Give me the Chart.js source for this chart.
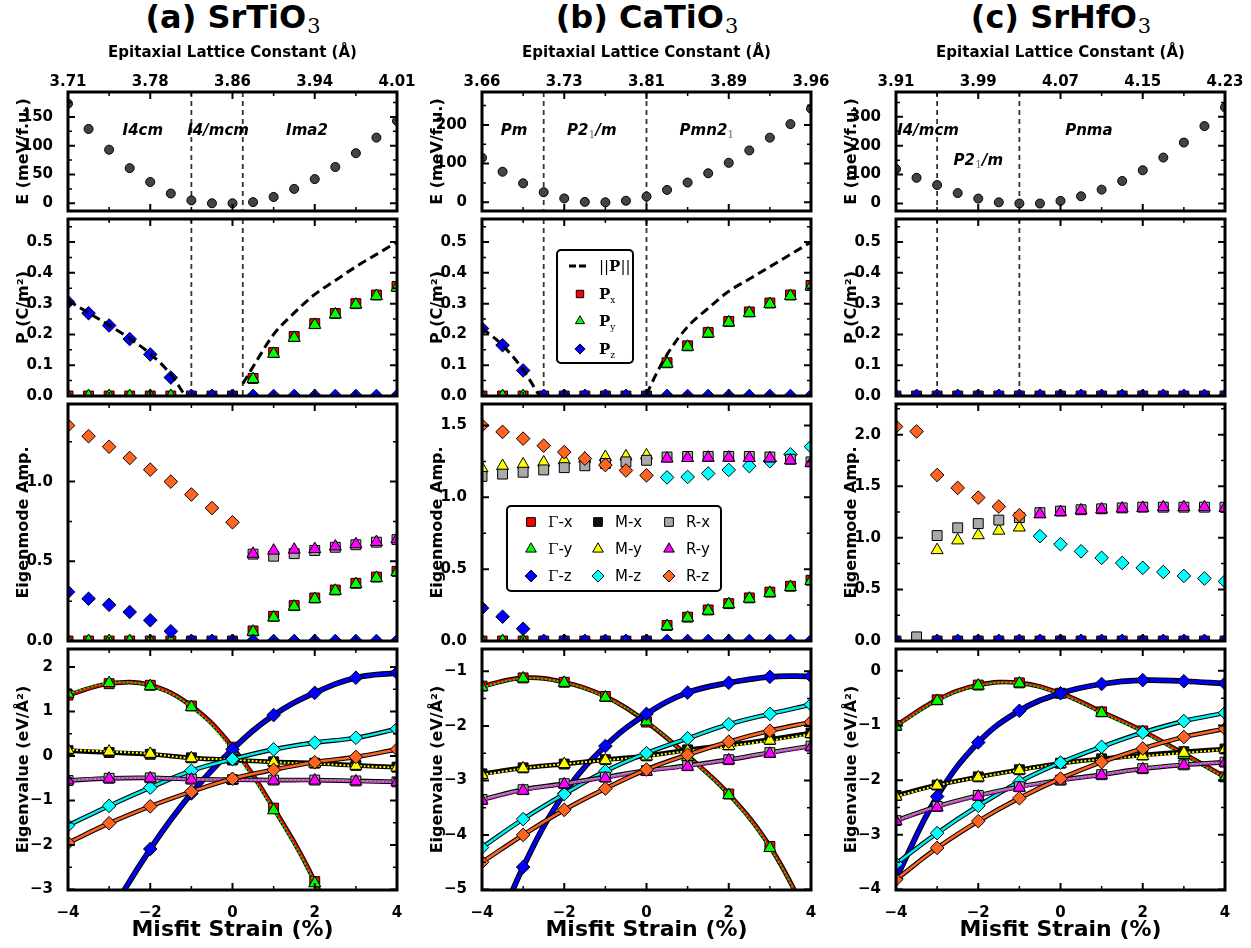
<!DOCTYPE html>
<html>
<head>
<meta charset="utf-8">
<script src="https://cdn.jsdelivr.net/npm/chart.js@4.4.1/dist/chart.umd.min.js"></script>
<style>
  html, body { margin: 0; padding: 0; background: #fff; }
  #fig { position: relative; width: 1251px; height: 948px; overflow: hidden; background: #fff; }
  #fig canvas { position: absolute; }
  .ttl { position: absolute; top: 1px; width: 400px; text-align: center; color: #000; white-space: nowrap;
         font-family: "DejaVu Sans"; font-weight: bold; font-size: 32px; line-height: 32px; }
  .ttl span { font-family: "DejaVu Serif"; font-weight: normal; font-size: 21px; line-height: 21px; position: relative; top: 5px; margin-left: 1px; }
</style>
</head>
<body>
<div id="fig">
  <div class="ttl" style="left:33px">(a) SrTiO<span>3</span></div>
  <div class="ttl" style="left:447px">(b) CaTiO<span>3</span></div>
  <div class="ttl" style="left:861px">(c) SrHfO<span>3</span></div>
</div>
<script>
// ---- data ----
const strain = [-4, -3.5, -3, -2.5, -2, -1.5, -1, -0.5, 0, 0.5, 1, 1.5, 2, 2.5, 3, 3.5, 4];
const strainEig = [-4, -3, -2, -1, 0, 1, 2, 3, 4];
const strainTicks = [-4, -2, 0, 2, 4];
const xTickAll = [-4, -3, -2, -1, 0, 1, 2, 3, 4];

const latticeA = ['3.71', '3.78', '3.86', '3.94', '4.01'];
const latticeB = ['3.66', '3.73', '3.81', '3.89', '3.96'];
const latticeC = ['3.91', '3.99', '4.07', '4.15', '4.23'];

// energy (meV/f.u.)
const energyA = [173, 129, 93, 61, 37, 17, 5, 0, 0, 2, 11, 25, 42, 63, 87, 114, 143];
const energyB = [115, 79, 49, 26, 10, 1, 0, 4, 15, 32, 51, 75, 102, 134, 167, 202, 242];
const energyC = [119, 89, 64, 36, 17, 4, 0, 0, 9, 25, 48, 78, 115, 159, 211, 268, 333];

// polarization (C/m^2)
const pxA = [0, 0, 0, 0, 0, 0, 0, 0, 0, 0.057, 0.141, 0.193, 0.235, 0.268, 0.3, 0.328, 0.356];
const pyA = [0, 0, 0, 0, 0, 0, 0, 0, 0, 0.055, 0.137, 0.189, 0.231, 0.265, 0.297, 0.325, 0.352];
const pzA = [0.305, 0.269, 0.229, 0.185, 0.135, 0.06, 0, 0, 0, 0, 0, 0, 0, 0, 0, 0, 0];
const normXA = [-4, -3.5, -3, -2.5, -2, -1.5, -1.15, null, 0.25, 0.5, 1, 1.5, 2, 2.5, 3, 3.5, 4];
const normYA = [0.31, 0.27, 0.23, 0.187, 0.137, 0.07, 0, null, 0.04, 0.095, 0.2, 0.27, 0.33, 0.375, 0.42, 0.46, 0.5];

const pxB = [0, 0, 0, 0, 0, 0, 0, 0, 0, 0.108, 0.163, 0.206, 0.242, 0.273, 0.302, 0.328, 0.359];
const pyB = [0, 0, 0, 0, 0, 0, 0, 0, 0, 0.105, 0.16, 0.203, 0.239, 0.27, 0.299, 0.325, 0.356];
const pzB = [0.219, 0.165, 0.083, 0, 0, 0, 0, 0, 0, 0, 0, 0, 0, 0, 0, 0, 0];
const normXB = [-4, -3.5, -3, -2.6, null, 0, 0.25, 0.5, 1, 1.5, 2, 2.5, 3, 3.5, 4];
const normYB = [0.22, 0.165, 0.085, 0, null, 0.005, 0.075, 0.135, 0.225, 0.285, 0.34, 0.38, 0.42, 0.46, 0.5];

const pxC = [0, 0, 0, 0, 0, 0, 0, 0, 0, 0, 0, 0, 0, 0, 0, 0, 0];
const pyC = [0, 0, 0, 0, 0, 0, 0, 0, 0, 0, 0, 0, 0, 0, 0, 0, 0];
const pzC = [0, 0, 0, 0, 0, 0, 0, 0, 0, 0, 0, 0, 0, 0, 0, 0, 0];
const normXC = [];
const normYC = [];

// eigenmode amplitudes
const gxAmpA = [0, 0, 0, 0, 0, 0, 0, 0, 0, 0.063, 0.155, 0.222, 0.27, 0.32, 0.362, 0.401, 0.437];
const gyAmpA = [0, 0, 0, 0, 0, 0, 0, 0, 0, 0.058, 0.148, 0.216, 0.264, 0.315, 0.357, 0.396, 0.432];
const gzAmpA = [0.308, 0.265, 0.227, 0.182, 0.13, 0.061, 0, 0, 0, 0, 0, 0, 0, 0, 0, 0, 0];
const mxAmpA = [];
const myAmpA = [];
const mzAmpA = [];
const rxAmpA = [null, null, null, null, null, null, null, null, null, 0.545, 0.532, 0.548, 0.568, 0.588, 0.604, 0.62, 0.636];
const ryAmpA = [null, null, null, null, null, null, null, null, null, 0.547, 0.567, 0.573, 0.577, 0.593, 0.607, 0.621, 0.638];
const rzAmpA = [1.352, 1.285, 1.219, 1.148, 1.075, 1.0, 0.919, 0.834, 0.745, null, null, null, null, null, null, null, null];

const gxAmpB = [0, 0, 0, 0, 0, 0, 0, 0, 0, 0.108, 0.166, 0.216, 0.26, 0.3, 0.34, 0.381, 0.423];
const gyAmpB = [0, 0, 0, 0, 0, 0, 0, 0, 0, 0.104, 0.162, 0.211, 0.256, 0.295, 0.335, 0.376, 0.418];
const gzAmpB = [0.229, 0.169, 0.085, 0, 0, 0, 0, 0, 0, 0, 0, 0, 0, 0, 0, 0, 0];
const mxAmpB = [];
const myAmpB = [1.202, 1.218, 1.229, 1.243, 1.258, 1.27, 1.281, 1.285, 1.292, null, null, null, null, null, null, null, null];
const mzAmpB = [null, null, null, null, null, null, null, null, null, 1.139, 1.142, 1.166, 1.191, 1.218, 1.252, 1.299, 1.353];
const rxAmpB = [1.146, 1.162, 1.175, 1.191, 1.207, 1.22, 1.236, 1.247, 1.258, 1.281, 1.285, 1.285, 1.285, 1.285, 1.281, 1.265, 1.247];
const ryAmpB = [null, null, null, null, null, null, null, null, null, 1.27, 1.274, 1.276, 1.276, 1.274, 1.272, 1.258, 1.24];
const rzAmpB = [1.501, 1.456, 1.409, 1.36, 1.315, 1.27, 1.225, 1.187, 1.153, null, null, null, null, null, null, null, null];

const gxAmpC = [0, 0, 0, 0, 0, 0, 0, 0, 0, 0, 0, 0, 0, 0, 0, 0, 0];
const gyAmpC = [0, 0, 0, 0, 0, 0, 0, 0, 0, 0, 0, 0, 0, 0, 0, 0, 0];
const gzAmpC = [0, 0, 0, 0, 0, 0, 0, 0, 0, 0, 0, 0, 0, 0, 0, 0, 0];
const mxAmpC = [];
const myAmpC = [null, null, 0.881, 0.975, 1.025, 1.069, 1.1, null, null, null, null, null, null, null, null, null, null];
const mzAmpC = [null, null, null, null, null, null, null, 1.016, 0.938, 0.869, 0.806, 0.756, 0.709, 0.669, 0.631, 0.606, 0.578];
const rxAmpC = [null, 0.04, 1.022, 1.097, 1.138, 1.172, 1.197, 1.244, 1.259, 1.272, 1.281, 1.29, 1.297, 1.297, 1.297, 1.297, 1.297];
const ryAmpC = [null, null, null, null, null, null, null, 1.228, 1.25, 1.266, 1.275, 1.284, 1.29, 1.297, 1.297, 1.297, 1.29];
const rzAmpC = [2.078, 2.031, 1.609, 1.484, 1.39, 1.303, 1.219, null, null, null, null, null, null, null, null, null, null];

// eigenvalues (eV/A^2)
const gxEigA = [1.37, 1.625, 1.59, 1.125, 0.2, -1.17, -2.82, -5.0, -7.4];
const gyEigA = [1.4, 1.64, 1.57, 1.1, 0.12, -1.22, -2.86, -5.0, -7.4];
const gzEigA = [-5.4, -3.6, -2.09, -0.84, 0.15, 0.92, 1.42, 1.76, 1.87];
const mxEigA = [0.12, 0.08, 0.04, -0.04, -0.09, -0.13, -0.16, -0.21, -0.25];
const myEigA = [0.14, 0.1, 0.05, -0.05, -0.08, -0.14, -0.17, -0.22, -0.26];
const mzEigA = [-1.56, -1.12, -0.71, -0.33, -0.07, 0.15, 0.3, 0.41, 0.61];
const rxEigA = [-0.55, -0.5, -0.49, -0.52, -0.53, -0.54, -0.54, -0.56, -0.58];
const ryEigA = [-0.55, -0.51, -0.5, -0.53, -0.54, -0.55, -0.55, -0.57, -0.59];
const rzEigA = [-1.95, -1.51, -1.13, -0.8, -0.51, -0.31, -0.14, -0.02, 0.15];

const gxEigB = [-1.27, -1.12, -1.2, -1.46, -1.93, -2.55, -3.25, -4.21, -5.6];
const gyEigB = [-1.29, -1.13, -1.21, -1.48, -1.92, -2.57, -3.27, -4.24, -5.6];
const gzEigB = [-6.4, -4.59, -3.24, -2.37, -1.78, -1.39, -1.21, -1.1, -1.09];
const mxEigB = [-2.88, -2.77, -2.7, -2.62, -2.55, -2.44, -2.35, -2.25, -2.13];
const myEigB = [-2.9, -2.78, -2.7, -2.63, -2.56, -2.46, -2.37, -2.27, -2.15];
const mzEigB = [-4.23, -3.71, -3.25, -2.83, -2.5, -2.23, -1.97, -1.78, -1.61];
const rxEigB = [-3.35, -3.17, -3.06, -2.94, -2.82, -2.73, -2.62, -2.49, -2.37];
const ryEigB = [-3.37, -3.19, -3.07, -2.96, -2.84, -2.75, -2.63, -2.51, -2.39];
const rzEigB = [-4.5, -4.0, -3.54, -3.15, -2.8, -2.53, -2.29, -2.09, -1.93];

const gxEigC = [-1.0, -0.53, -0.26, -0.22, -0.41, -0.75, -1.1, -1.52, -1.94];
const gyEigC = [-1.02, -0.55, -0.27, -0.23, -0.43, -0.77, -1.12, -1.54, -1.96];
const gzEigC = [-3.8, -2.3, -1.31, -0.73, -0.41, -0.24, -0.17, -0.19, -0.23];
const mxEigC = [-2.28, -2.09, -1.94, -1.81, -1.69, -1.61, -1.54, -1.48, -1.43];
const myEigC = [-2.3, -2.1, -1.95, -1.82, -1.7, -1.62, -1.56, -1.5, -1.44];
const mzEigC = [-3.53, -2.97, -2.47, -2.03, -1.68, -1.39, -1.13, -0.92, -0.77];
const rxEigC = [-2.74, -2.48, -2.28, -2.12, -2.0, -1.9, -1.79, -1.72, -1.67];
const ryEigC = [-2.75, -2.5, -2.3, -2.14, -2.01, -1.91, -1.8, -1.73, -1.68];
const rzEigC = [-3.82, -3.24, -2.75, -2.33, -1.97, -1.67, -1.42, -1.21, -1.06];

// ---- styles ----
const SERIES = ['gx', 'gy', 'gz', 'mx', 'my', 'mz', 'rx', 'ry', 'rz'];
const MARK = {
  gx: {style: 'rect', fill: '#ff0000', line: '#ff0000', r: 7, lw: 2.5, outline: true, name: ['Γ', '-x']},
  gy: {style: 'triangle', fill: '#00ff00', line: '#00dd00', r: 7, lw: 2, dash: [2, 2], name: ['Γ', '-y']},
  gz: {style: 'rectRot', fill: '#0000ff', line: '#0000ee', r: 6.8, lw: 3.5, outline: true, name: ['Γ', '-z']},
  mx: {style: 'rect', fill: '#111111', line: '#000000', r: 7, lw: 2.5, outline: true, name: ['', 'M-x']},
  my: {style: 'triangle', fill: '#ffff00', line: '#ffff00', r: 7, lw: 2, dash: [2, 2], name: ['', 'M-y']},
  mz: {style: 'rectRot', fill: '#00ffff', line: '#00eeee', r: 6.8, lw: 2.5, outline: true, name: ['', 'M-z']},
  rx: {style: 'rect', fill: '#aaaaaa', line: '#999999', r: 7, lw: 2.5, outline: true, name: ['', 'R-x']},
  ry: {style: 'triangle', fill: '#ff00ff', line: '#ff00ff', r: 7, lw: 2, dash: [2, 2], name: ['', 'R-y']},
  rz: {style: 'rectRot', fill: '#ff6420', line: '#ff6420', r: 6.8, lw: 2.5, outline: true, name: ['', 'R-z']}
};

const columns = [
  {left: 68, lattice: latticeA, energy: energyA, eRange: [-13.4, 193.2], eTicks: [0, 50, 100, 150], vlines: [-1, 0.25],
   phases: [{x: -2.18, f: 0.358, parts: [['I4cm', 'b']]}, {x: -0.35, f: 0.358, parts: [['I4/mcm', 'b']]}, {x: 1.81, f: 0.358, parts: [['Ima2', 'b']]}],
   px: pxA, py: pyA, pz: pzA, normX: normXA, normY: normYA,
   amp: {gx: gxAmpA, gy: gyAmpA, gz: gzAmpA, mx: mxAmpA, my: myAmpA, mz: mzAmpA, rx: rxAmpA, ry: ryAmpA, rz: rzAmpA},
   ampRange: [0, 1.487], ampTicks: [0, 0.5, 1.0],
   eig: {gx: gxEigA, gy: gyEigA, gz: gzEigA, mx: mxEigA, my: myEigA, mz: mzEigA, rx: rxEigA, ry: ryEigA, rz: rzEigA},
   eigRange: [-3.01, 2.405], eigTicks: [-3, -2, -1, 0, 1, 2]},
  {left: 482, lattice: latticeB, energy: energyB, eRange: [-22.5, 285], eTicks: [0, 100, 200], vlines: [-2.5, 0],
   phases: [{x: -3.22, f: 0.358, parts: [['Pm', 'b']]}, {x: -1.33, f: 0.358, parts: [['P2', 'b'], ['1', 's'], ['/m', 'b']]}, {x: 1.47, f: 0.358, parts: [['Pmn2', 'b'], ['1', 's']]}],
   px: pxB, py: pyB, pz: pzB, normX: normXB, normY: normYB, pLegend: true,
   amp: {gx: gxAmpB, gy: gyAmpB, gz: gzAmpB, mx: mxAmpB, my: myAmpB, mz: mzAmpB, rx: rxAmpB, ry: ryAmpB, rz: rzAmpB},
   ampRange: [0, 1.65], ampTicks: [0, 0.5, 1.0, 1.5], ampLegend: true,
   eig: {gx: gxEigB, gy: gyEigB, gz: gzEigB, mx: mxEigB, my: myEigB, mz: mzEigB, rx: rxEigB, ry: ryEigB, rz: rzEigB},
   eigRange: [-5.01, -0.59], eigTicks: [-5, -4, -3, -2, -1]},
  {left: 896, lattice: latticeC, energy: energyC, eRange: [-26, 386], eTicks: [0, 100, 200, 300], vlines: [-3, -1],
   phases: [{x: -3.22, f: 0.358, parts: [['I4/mcm', 'b']]}, {x: -2.0, f: 0.61, parts: [['P2', 'b'], ['1', 's'], ['/m', 'b']]}, {x: 0.69, f: 0.358, parts: [['Pnma', 'b']]}],
   px: pxC, py: pyC, pz: pzC, normX: normXC, normY: normYC,
   amp: {gx: gxAmpC, gy: gyAmpC, gz: gzAmpC, mx: mxAmpC, my: myAmpC, mz: mzAmpC, rx: rxAmpC, ry: ryAmpC, rz: rzAmpC},
   ampRange: [0, 2.297], ampTicks: [0, 0.5, 1.0, 1.5, 2.0],
   eig: {gx: gxEigC, gy: gyEigC, gz: gzEigC, mx: mxEigC, my: myEigC, mz: mzEigC, rx: rxEigC, ry: ryEigC, rz: rzEigC},
   eigRange: [-4.01, 0.4], eigTicks: [-4, -3, -2, -1, 0]}
];

// canvas rows: chart area E 92-215, P 215-400, A 400-645, G 645-890
const ROWS = {
  E: {top: 0, h: 227, padT: 0, padB: 12},
  P: {top: 203, h: 209, padT: 12, padB: 12},
  A: {top: 388, h: 269, padT: 12, padB: 12},
  G: {top: 633, h: 315, padT: 12, padB: 0}
};

Chart.defaults.font.family = '"DejaVu Sans"';
Chart.defaults.font.size = 15;
Chart.defaults.font.weight = 'bold';
Chart.defaults.color = '#000';

function fmt(v, dec) {
  const s = Math.abs(v).toFixed(dec);
  return (v < 0 && Number(s) !== 0 ? '\u2212' : '') + s;
}

function pts(xs, ys) {
  return ys.map((y, i) => ({x: xs[i], y: y}));
}

function drawMarker(ctx, style, x, y, r, fill) {
  ctx.beginPath();
  if (style === 'rect') {
    const s = r * Math.SQRT1_2;
    ctx.rect(x - s, y - s, 2 * s, 2 * s);
  } else if (style === 'triangle') {
    ctx.moveTo(x, y - r); ctx.lineTo(x + r * 0.866, y + r * 0.5); ctx.lineTo(x - r * 0.866, y + r * 0.5); ctx.closePath();
  } else if (style === 'rectRot') {
    ctx.moveTo(x, y - r); ctx.lineTo(x + r, y); ctx.lineTo(x, y + r); ctx.lineTo(x - r, y); ctx.closePath();
  } else {
    ctx.arc(x, y, r, 0, Math.PI * 2);
  }
  ctx.fillStyle = fill; ctx.fill();
  ctx.lineWidth = 1; ctx.strokeStyle = '#000'; ctx.stroke();
}

function richText(ctx, parts, x, y, align) {
  let w = 0;
  parts.forEach(q => { ctx.font = q.font; w += ctx.measureText(q.t).width; });
  let cx = align === 'center' ? x - w / 2 : x;
  ctx.textAlign = 'left'; ctx.textBaseline = 'alphabetic';
  parts.forEach(q => {
    ctx.font = q.font; ctx.fillStyle = q.color || '#000';
    ctx.fillText(q.t, cx, y + (q.dy || 0));
    cx += ctx.measureText(q.t).width;
  });
}

function legendBox(ctx, x, y, w, h) {
  ctx.beginPath();
  ctx.roundRect(x, y, w, h, 4);
  ctx.fillStyle = '#fff'; ctx.fill();
  ctx.lineWidth = 2; ctx.strokeStyle = '#000'; ctx.stroke();
}

function drawPLegend(ctx, a) {
  const L = a.left, T = a.top;
  legendBox(ctx, L + 75, T + 31, 76, 113);
  ctx.save();
  ctx.setLineDash([7, 3]); ctx.lineWidth = 3; ctx.strokeStyle = '#000';
  ctx.beginPath(); ctx.moveTo(L + 87, T + 47); ctx.lineTo(L + 106, T + 47); ctx.stroke();
  ctx.restore();
  richText(ctx, [{t: '||', font: '15px "DejaVu Serif"'}, {t: 'P', font: 'bold 15px "DejaVu Serif"'}, {t: '||', font: '15px "DejaVu Serif"'}], L + 117, T + 52, 'left');
  [['gx', 'x', 75], ['gy', 'y', 102], ['gz', 'z', 130]].forEach(([k, sub, ry]) => {
    const m = MARK[k];
    drawMarker(ctx, m.style, L + 98, T + ry, m.r * 0.75, m.fill);
    richText(ctx, [{t: 'P', font: 'bold 15px "DejaVu Serif"'}, {t: sub, font: '9px "DejaVu Serif"', dy: 4}], L + 117, T + ry + 5, 'left');
  });
}

function drawAmpLegend(ctx, a) {
  const L = a.left, T = a.top;
  legendBox(ctx, L + 25, T + 102, 214, 85);
  const rowsY = [118, 145, 172], colsX = [49, 116, 187];
  SERIES.forEach((k, i) => {
    const m = MARK[k], c = Math.floor(i / 3), r = i % 3;
    drawMarker(ctx, m.style, L + colsX[c], T + rowsY[r], m.r * 0.88, m.fill);
    const parts = [];
    if (m.name[0]) parts.push({t: m.name[0], font: '15px "DejaVu Serif"'});
    parts.push({t: m.name[1], font: '15px "DejaVu Sans"'});
    richText(ctx, parts, L + colsX[c] + 17, T + rowsY[r] + 5, 'left');
  });
}

// inward ticks, frame, dashed phase boundaries, annotations
const deco = {
  id: 'deco',
  beforeDatasetsDraw(chart) {
    const p = chart.canvas._panel;
    if (!p || !p.vlines) return;
    const {ctx, chartArea: a} = chart, xs = chart.scales.x;
    ctx.save();
    ctx.strokeStyle = '#333'; ctx.lineWidth = 1.8; ctx.setLineDash([5, 4]);
    p.vlines.forEach(v => {
      const px = xs.getPixelForValue(v);
      ctx.beginPath(); ctx.moveTo(px, a.top); ctx.lineTo(px, a.bottom); ctx.stroke();
    });
    ctx.restore();
  },
  afterDatasetsDraw(chart) {
    const p = chart.canvas._panel;
    if (!p) return;
    const {ctx, chartArea: a} = chart, xs = chart.scales.x, ys = chart.scales.y;
    ctx.save();
    ctx.strokeStyle = '#000';
    xTickAll.forEach(v => {
      const px = xs.getPixelForValue(v), major = v % 2 === 0, len = major ? 7 : 4;
      ctx.lineWidth = major ? 2 : 1.5;
      ctx.beginPath();
      ctx.moveTo(px, a.bottom); ctx.lineTo(px, a.bottom - len);
      ctx.moveTo(px, a.top); ctx.lineTo(px, a.top + len);
      ctx.stroke();
    });
    const step = p.yTicks[1] - p.yTicks[0];
    const minors = [p.yTicks[0] - step / 2].concat(p.yTicks.map(v => v + step / 2))
      .filter(v => v > ys.min && v < ys.max);
    [[p.yTicks, 7, 2], [minors, 4, 1.5]].forEach(([vals, len, lw]) => {
      ctx.lineWidth = lw;
      vals.forEach(v => {
        const py = ys.getPixelForValue(v);
        ctx.beginPath();
        ctx.moveTo(a.left, py); ctx.lineTo(a.left + len, py);
        ctx.moveTo(a.right, py); ctx.lineTo(a.right - len, py);
        ctx.stroke();
      });
    });
    ctx.lineWidth = 3;
    ctx.strokeRect(a.left, a.top, a.right - a.left, a.bottom - a.top);
    if (p.phases) {
      p.phases.forEach(ph => {
        const parts = ph.parts.map(([t, k]) => k === 's'
          ? {t: t, font: '11px "DejaVu Serif"', dy: 3, color: '#777'}
          : {t: t, font: 'italic bold 15px "DejaVu Sans"'});
        richText(ctx, parts, xs.getPixelForValue(ph.x), a.top + ph.f * (a.bottom - a.top), 'center');
      });
    }
    if (p.legend === 'P') drawPLegend(ctx, a);
    if (p.legend === 'amp') drawAmpLegend(ctx, a);
    ctx.restore();
  }
};
Chart.register(deco);

function yScale(range, ticks, dec, title) {
  return {
    type: 'linear', position: 'left', min: range[0], max: range[1],
    grid: {display: false}, border: {display: false},
    afterFit: s => { s.width = 68; },
    afterBuildTicks: s => { s.ticks = ticks.map(v => ({value: v})); },
    ticks: {padding: 7, autoSkip: false, callback: v => fmt(v, dec)},
    title: {display: true, text: title, font: {size: 16, weight: 'bold'}, padding: {top: 14, bottom: 0}}
  };
}

function xScale(row) {
  const s = {type: 'linear', min: -4, max: 4, display: row === 'G', grid: {display: false}, border: {display: false}};
  if (row === 'G') {
    Object.assign(s, {
      position: 'bottom',
      afterFit: sc => { sc.height = 58; },
      afterBuildTicks: sc => { sc.ticks = strainTicks.map(v => ({value: v})); },
      ticks: {padding: 6, autoSkip: false, maxRotation: 0, callback: v => fmt(v, 0)},
      title: {display: true, text: 'Misfit Strain (%)', font: {size: 22, weight: 'bold'}, padding: {top: 0, bottom: 5}}
    });
  }
  return s;
}

function topScale(lattice) {
  return {
    type: 'linear', position: 'top', min: -4, max: 4,
    grid: {display: false}, border: {display: false},
    afterFit: sc => { sc.height = 92; },
    afterBuildTicks: sc => { sc.ticks = strainTicks.map(v => ({value: v})); },
    ticks: {padding: -7, autoSkip: false, maxRotation: 0, callback: v => lattice[strainTicks.indexOf(v)]},
    title: {display: true, text: 'Epitaxial Lattice Constant (Å)', font: {size: 15, weight: 'bold'}, padding: {top: 44, bottom: 0}}
  };
}

function markerSet(xs, ys, k) {
  const m = MARK[k];
  return {data: pts(xs, ys), showLine: false, pointStyle: m.style, pointRadius: m.r,
          pointBackgroundColor: m.fill, pointBorderColor: '#000', pointBorderWidth: 1};
}

const fig = document.getElementById('fig');

function makeChart(col, row, datasets, yCfg, panel) {
  const R = ROWS[row];
  const cv = document.createElement('canvas');
  cv.width = 421; cv.height = R.h;
  cv.style.left = (col.left - 68) + 'px';
  cv.style.top = R.top + 'px';
  cv._panel = panel;
  fig.appendChild(cv);
  datasets.forEach((d, i) => { d.order = -i; d.xAxisID = 'x'; d.yAxisID = 'y'; });
  const scales = {x: xScale(row), y: yCfg};
  if (row === 'E') scales.x2 = topScale(col.lattice);
  return new Chart(cv, {
    type: 'line',
    data: {datasets: datasets},
    options: {
      responsive: false, animation: false, devicePixelRatio: 1, events: [],
      layout: {padding: {left: 0, right: 24, top: R.padT, bottom: R.padB}},
      plugins: {legend: {display: false}, tooltip: {enabled: false}},
      scales: scales
    }
  });
}

columns.forEach(col => {
  // energy
  makeChart(col, 'E', [{
    data: pts(strain, col.energy), showLine: false, pointStyle: 'circle', pointRadius: 4.5,
    pointBackgroundColor: '#444', pointBorderColor: '#000', pointBorderWidth: 1
  }], yScale(col.eRange, col.eTicks, 0, 'E (meV/f.u.)'),
  {yTicks: col.eTicks, vlines: col.vlines, phases: col.phases});

  // polarization
  makeChart(col, 'P', [
    markerSet(strain, col.px, 'gx'),
    markerSet(strain, col.py, 'gy'),
    markerSet(strain, col.pz, 'gz'),
    {data: pts(col.normX, col.normY), borderColor: '#000', borderWidth: 3, borderDash: [9, 5],
     pointRadius: 0, cubicInterpolationMode: 'monotone', fill: false}
  ], yScale([0, 0.575], [0, 0.1, 0.2, 0.3, 0.4, 0.5], 1, 'P (C/m²)'),
  {yTicks: [0, 0.1, 0.2, 0.3, 0.4, 0.5], vlines: col.vlines, legend: col.pLegend ? 'P' : null});

  // eigenmode amplitudes
  makeChart(col, 'A', SERIES.map(k => markerSet(strain, col.amp[k], k)),
    yScale(col.ampRange, col.ampTicks, 1, 'Eigenmode Amp.'),
    {yTicks: col.ampTicks, legend: col.ampLegend ? 'amp' : null});

  // eigenvalues
  const eigSets = [];
  SERIES.forEach(k => {
    const m = MARK[k], ys = col.eig[k];
    if (m.outline) {
      eigSets.push({data: pts(strainEig, ys), borderColor: '#000', borderWidth: m.lw + 2.2,
                    pointRadius: 0, tension: 0.4, capBezierPoints: false, fill: false});
    }
    eigSets.push({data: pts(strainEig, ys), borderColor: m.line, borderWidth: m.lw, borderDash: m.dash || [],
                  tension: 0.4, capBezierPoints: false, fill: false,
                  pointStyle: m.style, pointRadius: m.r, pointBackgroundColor: m.fill,
                  pointBorderColor: '#000', pointBorderWidth: 1});
  });
  makeChart(col, 'G', eigSets, yScale(col.eigRange, col.eigTicks, 0, 'Eigenvalue (eV/Å²)'),
    {yTicks: col.eigTicks});
});
</script>
</body>
</html>
